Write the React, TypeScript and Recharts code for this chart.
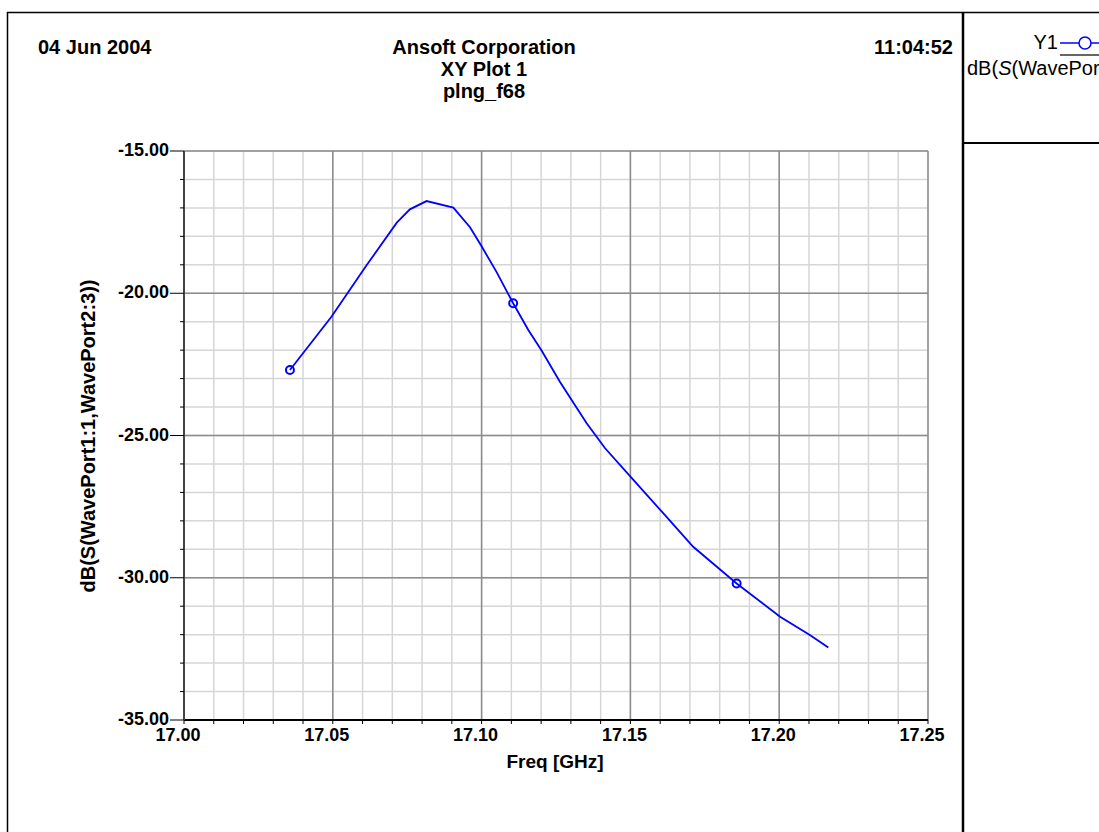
import React from "react"
import {
  ComposedChart,
  Line,
  XAxis,
  YAxis,
  CartesianGrid,
  ReferenceLine,
} from "recharts"

// S-parameter sweep (GHz, dB)
const freq = [
  17.0356, 17.0496, 17.0614, 17.0715, 17.0759, 17.0815, 17.0905, 17.0961,
  17.1, 17.105, 17.1106, 17.1157, 17.1202, 17.1263, 17.1353, 17.1415,
  17.151, 17.1611, 17.1711, 17.1857, 17.2003, 17.2103, 17.2165,
]
const dbS = [
  -22.7, -20.82, -19.01, -17.52, -17.05, -16.76, -16.99, -17.68,
  -18.35, -19.25, -20.35, -21.29, -22.02, -23.11, -24.57, -25.45,
  -26.56, -27.74, -28.91, -30.2, -31.37, -32.01, -32.45,
]
const markerFreq = [17.0356, 17.1106, 17.1857]
const markerDb = [-22.7, -20.35, -30.2]

const xTicks = [
  17.0, 17.01, 17.02, 17.03, 17.04, 17.05, 17.06, 17.07, 17.08, 17.09,
  17.1, 17.11, 17.12, 17.13, 17.14, 17.15, 17.16, 17.17, 17.18, 17.19,
  17.2, 17.21, 17.22, 17.23, 17.24, 17.25,
]
const xMajor = [17.0, 17.05, 17.1, 17.15, 17.2, 17.25]
const yTicks = [
  -35, -34, -33, -32, -31, -30, -29, -28, -27, -26, -25,
  -24, -23, -22, -21, -20, -19, -18, -17, -16, -15,
]
const yMajor = [-35, -30, -25, -20, -15]

const curve = freq.map((f, i) => ({ f, db: dbS[i] }))
const markers = markerFreq.map((f, i) => ({ f, db: markerDb[i] }))

const FONT = "'Liberation Sans', Arial, sans-serif"
const BLUE = "#0000ff"

function XTick(props: any) {
  const { x, y, payload } = props
  const v = payload.value
  const major = Math.round(v * 100) % 5 === 0
  return (
    <g>
      <line x1={x} y1={y} x2={x} y2={y + 4} stroke="#000" strokeWidth={1} />
      {major && (
        <text
          x={x - 6}
          y={y + 21}
          textAnchor="middle"
          fontFamily={FONT}
          fontWeight="bold"
          fontSize={18}
          fill="#000"
        >
          {v.toFixed(2)}
        </text>
      )}
    </g>
  )
}

function YTick(props: any) {
  const { x, y, payload } = props
  const v = payload.value
  const major = Math.round(v) % 5 === 0
  return (
    <g>
      <line x1={x - (major ? 14 : 4)} y1={y} x2={x} y2={y} stroke="#000" strokeWidth={1} />
      {major && (
        <text
          x={x - 15}
          y={y + 5}
          textAnchor="end"
          fontFamily={FONT}
          fontWeight="bold"
          fontSize={18}
          fill="#000"
        >
          {v.toFixed(2)}
        </text>
      )}
    </g>
  )
}

function Overlay() {
  return (
    <svg
      width={1099}
      height={832}
      style={{ position: "absolute", left: 0, top: 0, pointerEvents: "none" }}
    >
      {/* frame */}
      <line x1={7.5} y1={12} x2={7.5} y2={832} stroke="#000" strokeWidth={1.5} />
      <line x1={7} y1={12.5} x2={1099} y2={12.5} stroke="#000" strokeWidth={1.5} />
      <line x1={963} y1={12} x2={963} y2={832} stroke="#000" strokeWidth={2.5} />
      <line x1={963} y1={143} x2={1099} y2={143} stroke="#000" strokeWidth={2} />

      {/* header */}
      <g fontFamily={FONT} fontWeight="bold" fontSize={20} fill="#000">
        <text x={38} y={54}>04 Jun 2004</text>
        <text x={484} y={54} textAnchor="middle">Ansoft Corporation</text>
        <text x={484} y={76} textAnchor="middle">XY Plot 1</text>
        <text x={484} y={98} textAnchor="middle">plng_f68</text>
        <text x={953} y={54} textAnchor="end">11:04:52</text>
      </g>

      {/* axis titles */}
      <text
        x={555}
        y={768}
        textAnchor="middle"
        fontFamily={FONT}
        fontWeight="bold"
        fontSize={19}
      >
        Freq [GHz]
      </text>
      <text
        transform="translate(95,436) rotate(-90)"
        textAnchor="middle"
        fontFamily={FONT}
        fontWeight="bold"
        fontSize={20}
      >
        dB(S(WavePort1:1,WavePort2:3))
      </text>

      {/* legend */}
      <text x={1058} y={49} textAnchor="end" fontFamily={FONT} fontSize={20}>
        Y1
      </text>
      <line x1={1060} y1={43} x2={1099} y2={43} stroke={BLUE} strokeWidth={1.5} />
      <circle cx={1085} cy={43} r={6} fill="#fff" stroke={BLUE} strokeWidth={1.5} />
      <line x1={1060} y1={55} x2={1099} y2={55} stroke="#666" strokeWidth={2} />
      <text x={967} y={75} fontFamily={FONT} fontSize={20}>
        dB(<tspan fontStyle="italic">S</tspan>(WavePort1:1,WavePort2:3))
      </text>
    </svg>
  )
}

export default function App() {
  return (
    <div
      style={{
        position: "absolute",
        left: 0,
        top: 0,
        width: 1099,
        height: 832,
        overflow: "hidden",
        background: "#fff",
      }}
    >
      <ComposedChart
        width={1099}
        height={832}
        margin={{ top: 151, left: 124, right: 171, bottom: 72 }}
      >
        <CartesianGrid stroke="#d6d6d6" strokeWidth={1.5} />
        <XAxis
          dataKey="f"
          type="number"
          domain={[17, 17.25]}
          ticks={xTicks}
          height={40}
          tickSize={0}
          tickMargin={0}
          tickLine={false}
          tick={<XTick />}
          axisLine={{ stroke: "#000", strokeWidth: 2 }}
          allowDataOverflow
          interval={0}
        />
        <YAxis
          type="number"
          domain={[-35, -15]}
          ticks={yTicks}
          width={60}
          tickSize={0}
          tickMargin={0}
          tickLine={false}
          tick={<YTick />}
          axisLine={{ stroke: "#444", strokeWidth: 2 }}
          allowDataOverflow
          interval={0}
        />
        {xMajor.slice(1).map((v) => (
          <ReferenceLine key={"x" + v} x={v} stroke="#8c8c8c" strokeWidth={1.5} />
        ))}
        {yMajor.slice(1).map((v) => (
          <ReferenceLine key={"y" + v} y={v} stroke="#8c8c8c" strokeWidth={1.5} />
        ))}
        <Line
          data={curve}
          dataKey="db"
          type="linear"
          stroke={BLUE}
          strokeWidth={1.8}
          dot={false}
          isAnimationActive={false}
        />
        <Line
          data={markers}
          dataKey="db"
          type="linear"
          stroke="none"
          dot={{ r: 4, stroke: BLUE, strokeWidth: 2, fill: "none" }}
          isAnimationActive={false}
        />
      </ComposedChart>
      <Overlay />
    </div>
  )
}
